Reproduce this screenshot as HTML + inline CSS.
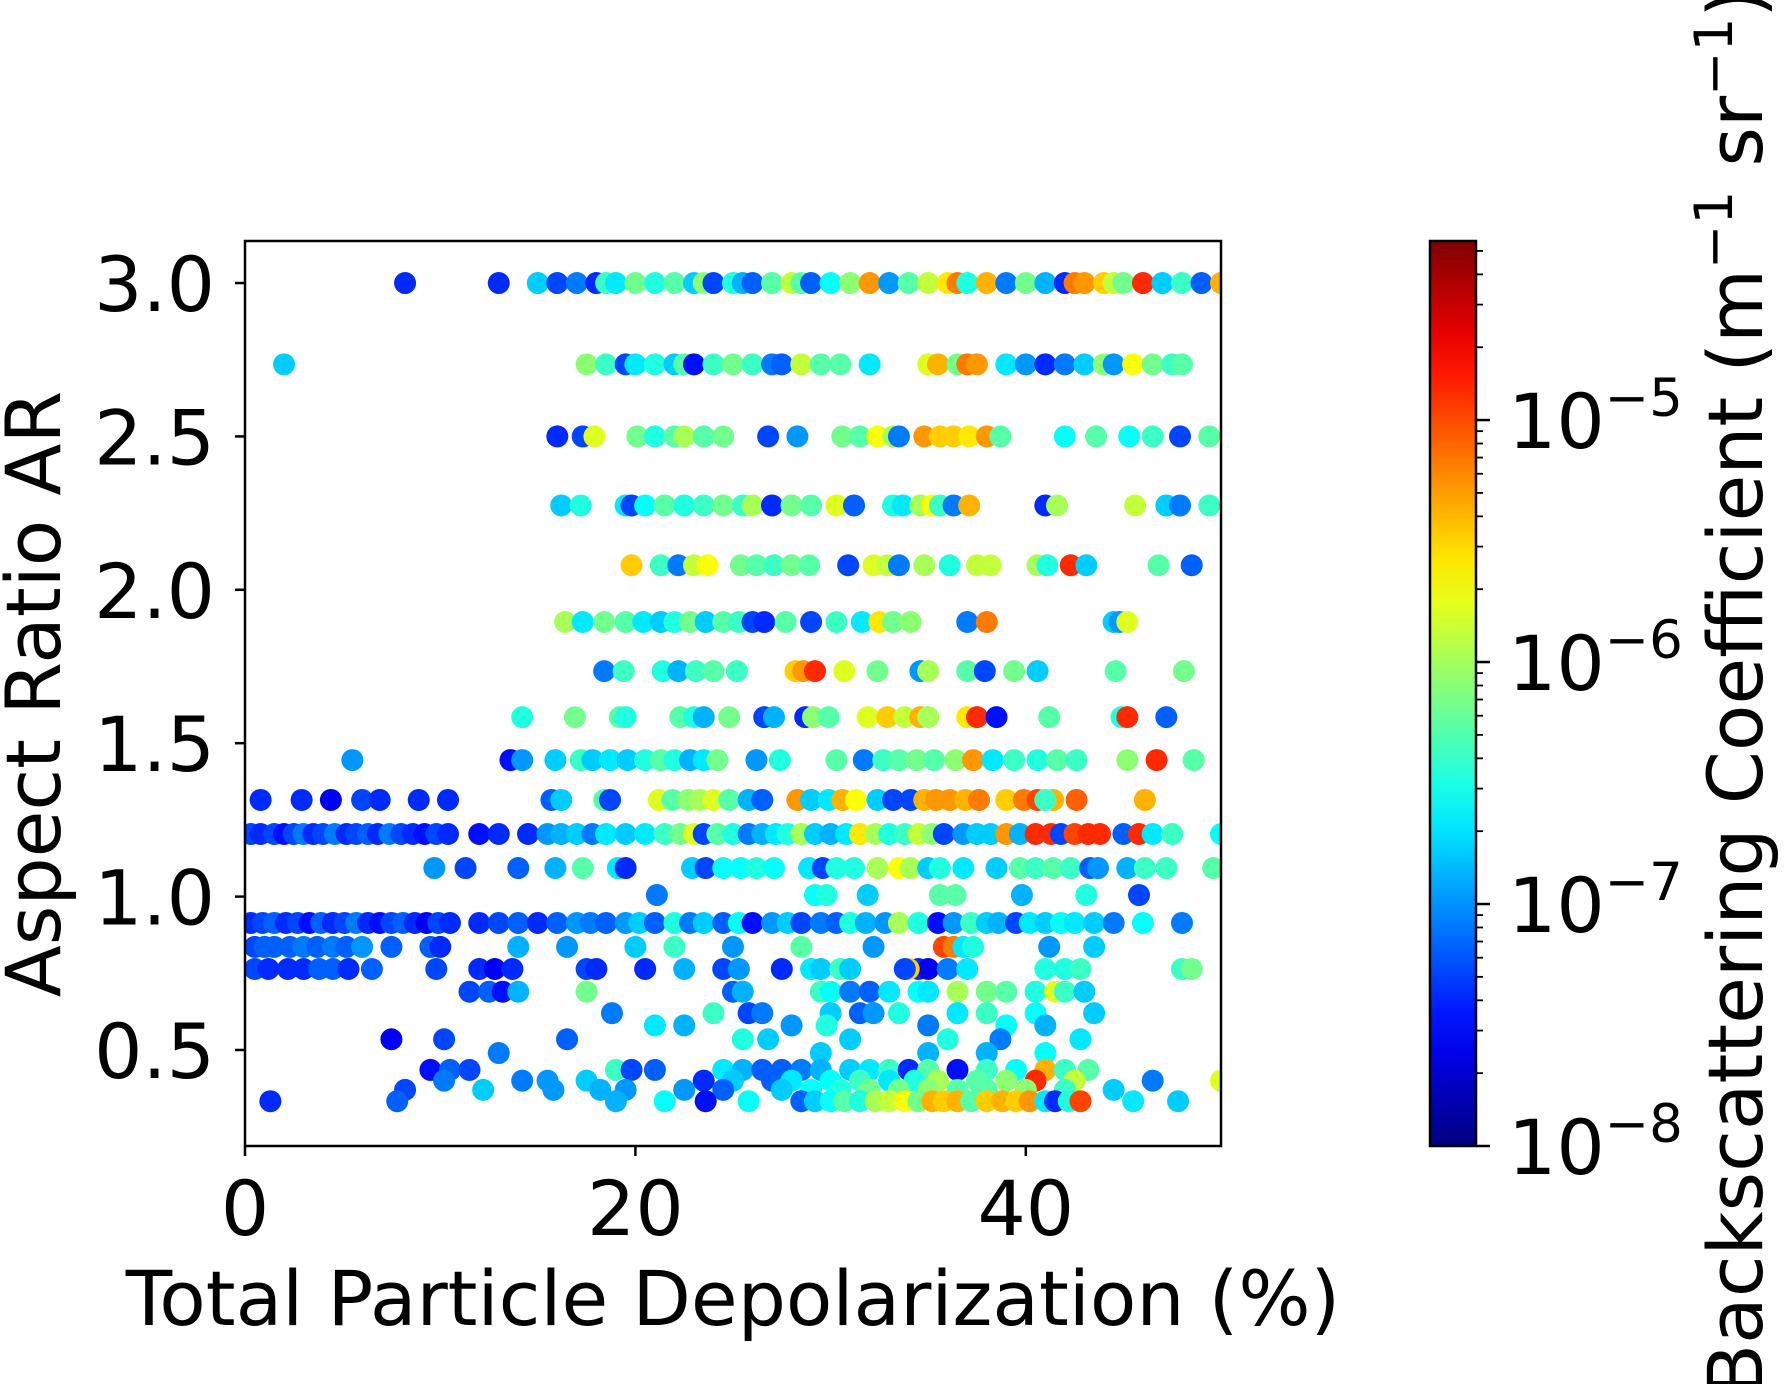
<!DOCTYPE html>
<html><head><meta charset="utf-8"><style>
html,body{margin:0;padding:0;background:#fff;}
svg{display:block;font-family:"DejaVu Sans","Liberation Sans",sans-serif;}
</style></head><body>
<svg id="chart" width="1784" height="1384" viewBox="0 0 1784 1384" xmlns="http://www.w3.org/2000/svg">
<defs><clipPath id="plotclip"><rect x="245" y="241" width="976" height="905"/></clipPath>
<linearGradient id="jetgrad" x1="0" y1="1" x2="0" y2="0"></linearGradient></defs>
<g id="points" clip-path="url(#plotclip)"></g>
<rect x="245" y="241" width="976" height="905" fill="none" stroke="#000" stroke-width="2.5"/>
<g id="axes"></g>
<text x="733" y="1325" font-size="76" text-anchor="middle">Total Particle Depolarization (%)</text>
<text transform="translate(60,694) rotate(-90)" font-size="76" text-anchor="middle">Aspect Ratio AR</text>
<rect id="cbar" x="1430" y="241" width="46" height="905" fill="url(#jetgrad)" stroke="#000" stroke-width="2.5"/>
<g id="cbaxis"></g>
<text transform="translate(1762,692) rotate(-90)" font-size="76" text-anchor="middle">Backscattering Coefficient (m<tspan dy="-30" font-size="53">−1</tspan><tspan dy="30"> sr</tspan><tspan dy="-30" font-size="53">−1</tspan><tspan dy="30">)</tspan></text>
</svg>
<script>
// Data: depolarization (%), aspect ratio, log10 backscatter
const depol = [
8.2,13,15,16,17,18,18.5,19,20,21,22,23,23.5,24,25,25.5,26,27,28,28.5,29,30,31,32,33,34,35,36,36.5,37,38,39,40,41,42,42.5,43,44,44.5,45,46,47,48,49,50,
2,17.5,18.5,19.5,20,21,22,22.5,23,24,25,26,27,27.5,28.5,29.5,30.5,32,35,35.5,36.5,37,37.5,39,40,41,42,43,44,44.5,45.5,46.5,47.5,48,
16,17.3,17.9,20.1,21,22,22.5,23.5,24.5,26.8,28.3,30.6,31.5,32.4,33.2,33.5,34.8,35.6,36.3,37.1,38,38.7,42,43.6,45.3,46.5,47.9,49.4,
16.2,17.2,19.5,19.8,20.5,21.5,22.5,23.5,24.5,25.5,26,27,28,29,30.3,31.2,33.2,33.7,34.6,35.2,35.6,36.3,37.1,41,41.6,45.6,47.2,47.9,49.4,
19.8,21.3,22.2,23,23.7,25.4,26.2,27.1,28,28.9,30.9,32.2,32.9,33.5,34.8,36.1,37.5,38.2,40.6,41.1,42.3,43.1,46.8,48.5,
16.4,17.3,18.4,19.5,20.4,21.3,22,22.8,23.6,24.5,25.3,26,26.6,27.7,29,30.3,31.6,32.5,33.2,34.1,37,38,44.5,44.8,45.2,
18.4,19.4,21.4,22.2,23.1,24,25.2,28.2,28.6,29.2,30.7,32.4,34.6,35,37,37.9,39.4,40.6,44.6,48.1,
14.2,16.9,19.2,19.5,22.3,23,23.5,24.8,26.6,27.1,28.7,29.1,29.9,31.9,32.9,33.8,34.6,35,37,37.5,38.5,41.2,44.9,45.2,47.2,
5.5,13.6,14.2,15.9,17.2,17.8,18.7,19.6,20.5,21.3,22,22.8,23.5,24.2,26.2,27.4,30.3,31.7,32.7,33.5,34.4,35.3,36.4,37.3,38.3,39.4,40.6,41.6,42.6,45.2,46.7,48.6,
0.8,2.9,4.4,6,6.9,8.9,10.4,15.7,16.2,18.4,18.7,21.2,21.9,22.7,23.3,24,24.8,25.8,26.5,28.3,29,29.9,30.6,31.3,32.4,33.2,34.1,34.8,35.4,36.1,36.9,37.6,39,39.9,40.6,41.4,42.6,46.1,41,
0.3,0.8,1.5,2,2.5,3,3.5,4,4.6,5.2,5.7,6.3,6.8,7.4,8,8.6,9.2,9.8,10.4,12,13,14.5,15.5,16.2,17,17.8,18.5,19.5,20.5,21.5,22.3,23,23.5,24.2,25,25.8,26.5,27.2,27.8,28.5,29.2,30,30.8,31.5,32.3,33,33.8,34.5,35.2,35.8,36.8,37.5,38.2,39,39.7,40.5,41.3,41.8,42.5,43.2,43.8,45,45.8,46.5,47.5,50,
9.7,11.3,14,15.9,17.3,19.1,19.5,22.9,23.6,24.5,25.4,26.2,27.1,28.9,29.6,30.3,31.2,32.4,33.5,34.1,35,35.6,36.8,38.5,39.7,40.5,41.4,42.3,43.3,43.7,45.2,46.1,47.2,49.6,
21.1,29.2,29.8,31.9,35.6,36.4,39.8,43.1,45.8,
0.3,0.9,1.5,2.1,2.7,3.3,3.9,4.5,5.1,5.7,6.3,6.9,7.5,8.1,8.7,9.3,9.9,10.5,12,13,14,15,16,17,17.7,18.5,19.5,20.2,21,22,22.8,23.5,24.5,25.3,26,27,27.8,28.5,29.5,30.3,31,31.8,32.8,33.5,34.5,35.5,36.3,37.2,38,38.6,39.5,40.2,41,41.8,42.5,43.5,44.5,46,48,
0.5,1,1.5,2.3,3,3.7,4.5,5.2,6,7.5,9.5,10,14,16.5,20,22,25,28.5,32.2,35.8,36.3,36.8,37.3,41.2,43.5,
0.5,1.2,2.2,3,3.8,4.5,5.3,6.5,9.8,12,12.8,13.7,17.5,18,20.5,22.5,24.5,25.3,27.5,29,29.5,30.5,31,34.5,35,36,37,41,42,42.8,48,48.5,34,33.8,
11.5,12.5,13.2,14,17.5,25,25.5,29.5,30,31,32,33,34.5,35,36.5,38,39,40.5,41.5,42,43,
18.8,24,25.8,26.5,30,31.5,32.2,33.5,36.5,38,40.5,43.5,
21,22.5,28,29.8,35,39,41,
7.5,10.2,16.5,25.5,26.8,31,36,38.7,42.8,
13,29.5,35,38,41,
9.5,10.5,11.5,19,19.8,21,24.5,25.5,26.5,27.5,28.5,29.5,31,32,33,34,35,36.5,38,39.5,41,42,43.2,
10.2,14.2,15.5,17.5,23.5,25,27,28,30,31.5,33,34.3,35.5,37.5,39,40.5,42.5,46.5,50,
8.2,12.2,15.8,18.2,19.5,22.5,24.5,27.5,29,30.5,32,33.5,35,36.5,38,40,42,44.5,
1.3,7.8,19,21.5,23.6,25.8,28.5,29.2,30,30.7,31.5,32.3,33,33.8,34.5,35.2,35.8,36.5,37.2,38,38.8,39.5,40.2,41,41.5,42.2,42.8,45.5,47.8
];
const rowAR = [3.0,2.735,2.5,2.275,2.08,1.895,1.735,1.585,1.445,1.315,1.204,1.093,1.005,0.914,0.836,0.764,0.69,0.62,0.58,0.535,0.49,0.435,0.40,0.37,0.333];
const rowCount = [45,34,28,29,24,25,20,25,32,39,66,34,9,59,25,34,21,12,7,9,5,23,19,18,29];
const logBeta = [
-7.5,-7.5,-6.9,-7.4,-7.2,-7.5,-6.5,-6.8,-6.3,-6.6,-6.4,-6.9,-6.2,-7.4,-6.6,-7.0,-7.3,-6.4,-6.0,-6.4,-7.3,-6.7,-6.2,-5.4,-7.1,-6.4,-6.0,-5.7,-5.3,-6.6,-5.5,-7.2,-6.3,-7.0,-7.5,-5.3,-5.4,-5.6,-6.0,-6.3,-5.0,-6.9,-6.5,-7.3,-5.5,
-6.9,-6.2,-6.5,-7.4,-6.8,-6.6,-6.9,-6.4,-7.6,-6.5,-6.3,-6.5,-7.2,-7.3,-6.0,-6.4,-6.4,-6.8,-5.9,-5.5,-6.3,-5.3,-5.4,-6.8,-7.1,-7.5,-7.2,-6.9,-6.2,-7.1,-5.8,-6.3,-6.5,-6.4,
-7.5,-7.4,-5.9,-6.3,-6.6,-6.4,-6.1,-6.4,-6.3,-7.4,-7.1,-6.3,-6.4,-5.8,-6.1,-7.2,-5.4,-5.6,-5.6,-5.7,-5.4,-6.4,-6.7,-6.4,-6.7,-6.5,-7.4,-6.4,
-6.9,-6.6,-6.8,-7.4,-6.7,-6.4,-6.6,-6.5,-6.3,-6.5,-6.1,-7.5,-6.3,-6.4,-5.9,-7.3,-6.6,-6.8,-6.1,-5.8,-6.5,-7.2,-5.5,-7.5,-6.1,-6.0,-6.9,-7.2,-6.5,
-5.6,-6.5,-7.2,-6.0,-5.8,-6.3,-6.4,-6.5,-6.3,-6.4,-7.4,-5.9,-6.0,-7.2,-6.1,-6.6,-6.0,-6.0,-6.1,-6.6,-5.0,-6.9,-6.4,-7.3,
-6.1,-6.8,-6.3,-6.4,-6.8,-6.9,-6.6,-6.3,-6.9,-6.4,-6.5,-7.4,-7.5,-6.4,-7.4,-6.5,-6.8,-5.7,-6.3,-6.2,-7.2,-5.3,-6.9,-7.1,-5.9,
-7.2,-6.5,-6.6,-7.0,-6.5,-6.4,-6.5,-5.6,-5.4,-5.0,-5.9,-6.3,-7.1,-6.1,-6.4,-7.4,-6.3,-6.9,-6.4,-6.3,
-6.6,-6.3,-6.4,-6.6,-6.4,-6.6,-7.0,-6.3,-7.4,-7.0,-7.5,-6.2,-6.4,-5.9,-5.6,-6.0,-5.5,-6.1,-5.7,-5.0,-7.6,-6.4,-6.6,-5.0,-7.3,
-7.1,-7.6,-7.1,-6.9,-6.5,-6.9,-6.8,-6.9,-6.6,-6.4,-6.6,-7.0,-6.8,-6.3,-7.1,-6.6,-6.4,-7.2,-6.5,-6.4,-6.3,-6.4,-6.2,-5.4,-6.8,-6.5,-6.6,-6.4,-6.5,-6.2,-5.0,-6.4,
-7.5,-7.5,-7.7,-7.4,-7.5,-7.5,-7.5,-7.3,-6.9,-6.4,-7.4,-5.9,-6.4,-6.2,-6.1,-5.9,-6.4,-7.0,-7.3,-5.4,-6.9,-6.8,-5.5,-5.8,-6.9,-7.4,-7.4,-5.5,-5.4,-5.4,-5.5,-5.3,-5.6,-5.3,-5.1,-5.5,-5.2,-5.5,-6.5,
-7.4,-7.5,-7.4,-7.6,-7.4,-7.2,-7.5,-7.4,-7.2,-7.5,-7.4,-7.3,-7.5,-7.2,-7.4,-7.5,-7.6,-7.4,-7.5,-7.6,-7.5,-7.5,-7.1,-7.0,-6.9,-7.2,-6.8,-6.9,-6.8,-6.5,-6.3,-5.9,-7.4,-6.4,-6.6,-7.2,-7.0,-6.8,-6.6,-6.1,-6.9,-7.0,-6.8,-5.7,-6.1,-6.6,-6.5,-6.0,-6.2,-7.4,-7.1,-6.9,-6.9,-5.4,-7.0,-5.0,-5.0,-7.4,-5.1,-5.0,-5.0,-7.3,-5.0,-6.8,-6.5,-6.7,
-7.1,-7.4,-7.3,-7.0,-6.4,-6.8,-7.5,-6.9,-7.4,-6.7,-6.7,-6.6,-6.7,-6.8,-7.4,-6.6,-6.6,-6.1,-5.8,-6.1,-6.9,-6.6,-6.8,-6.9,-6.4,-6.5,-6.4,-6.5,-7.3,-7.1,-7.0,-6.5,-6.5,-6.4,
-7.2,-6.7,-6.6,-6.9,-6.4,-6.4,-7.0,-6.6,-7.4,
-7.5,-7.4,-7.3,-7.5,-7.4,-7.6,-7.3,-7.5,-7.4,-7.2,-7.5,-7.6,-7.4,-7.3,-7.5,-7.7,-7.4,-7.5,-7.5,-7.4,-7.3,-7.5,-7.3,-7.1,-7.2,-7.3,-7.1,-6.9,-7.3,-6.6,-7.2,-6.9,-7.3,-6.7,-7.6,-7.1,-6.9,-7.4,-7.2,-7.3,-6.6,-7.0,-7.1,-6.1,-6.6,-7.6,-7.1,-6.5,-6.9,-7.0,-7.4,-6.8,-6.9,-6.7,-6.8,-6.9,-7.2,-6.7,-7.2,
-7.4,-7.3,-7.3,-7.3,-7.2,-7.3,-7.2,-7.3,-7.1,-7.3,-7.3,-7.5,-7.0,-7.1,-6.9,-6.5,-7.1,-6.4,-7.1,-5.1,-5.3,-6.8,-6.6,-7.1,-6.9,
-7.4,-7.5,-7.5,-7.5,-7.3,-7.3,-7.5,-7.3,-7.4,-7.5,-7.7,-7.5,-7.4,-7.5,-7.5,-7.0,-7.4,-7.1,-7.5,-6.8,-6.9,-6.5,-6.9,-7.5,-7.7,-7.2,-6.8,-6.6,-6.6,-6.5,-6.5,-6.3,-5.6,-7.4,
-7.4,-7.3,-7.6,-7.0,-6.3,-7.3,-7.0,-6.5,-6.7,-7.2,-7.3,-6.8,-6.7,-6.8,-6.1,-6.3,-6.4,-6.6,-5.9,-6.5,-6.9,
-7.2,-6.5,-7.4,-7.2,-6.9,-7.3,-7.1,-6.6,-6.8,-6.5,-6.7,-6.9,
-6.8,-7.0,-7.1,-6.6,-7.2,-6.7,-7.0,
-7.7,-7.4,-7.3,-6.6,-6.9,-6.9,-6.6,-7.2,-6.8,
-7.2,-6.9,-7.0,-7.0,-6.7,
-7.6,-7.3,-7.4,-6.5,-7.4,-7.3,-6.8,-7.0,-7.3,-7.3,-7.2,-7.0,-6.9,-6.8,-6.5,-7.5,-6.4,-7.6,-6.5,-6.7,-5.5,-6.5,-6.4,
-7.2,-7.2,-7.1,-6.9,-7.5,-6.9,-7.3,-6.8,-6.7,-6.5,-6.8,-6.6,-6.1,-6.4,-6.2,-5.0,-6.0,-7.2,-5.9,
-7.4,-6.9,-7.1,-7.0,-7.1,-7.1,-7.3,-6.9,-6.7,-6.6,-6.3,-6.3,-6.2,-6.4,-6.4,-6.2,-6.5,-6.9,
-7.5,-7.3,-7.0,-6.7,-7.6,-6.7,-7.3,-6.9,-6.7,-6.4,-6.6,-6.1,-6.0,-5.8,-6.3,-5.5,-5.6,-5.5,-6.4,-5.6,-5.5,-5.6,-5.4,-6.8,-7.5,-6.6,-5.1,-6.8,-6.9
];
const xTicks = [0,20,40];
const yTicks = [0.5,1.0,1.5,2.0,2.5,3.0];
const cbDecades = [-8,-7,-6,-5];

const NS='http://www.w3.org/2000/svg';
const X0=245,X1=1221,Y0=1146,Y1=241;
const xMin=0,xMax=50,yMin=0.187,yMax=3.137;
const cMin=-8,cMax=-4.26;
function sx(v){return X0+(v-xMin)/(xMax-xMin)*(X1-X0);}
function sy(v){return Y0-(v-yMin)/(yMax-yMin)*(Y0-Y1);}
function sc(v){return Y0-(v-cMin)/(cMax-cMin)*(Y0-Y1);}
function jet(t){
  t=Math.max(0,Math.min(1,t));
  function f(a){return Math.max(0,Math.min(1,a));}
  const r=f(Math.min(4*t-1.5,-4*t+4.5)),g=f(Math.min(4*t-0.5,-4*t+3.5)),b=f(Math.min(4*t+0.5,-4*t+2.5));
  return 'rgb('+Math.round(r*255)+','+Math.round(g*255)+','+Math.round(b*255)+')';
}
function mk(tag,attrs,parent){const e=document.createElementNS(NS,tag);for(const k in attrs)e.setAttribute(k,attrs[k]);parent.appendChild(e);return e;}

const arVals=[];
rowCount.forEach((n,i)=>{for(let j=0;j<n;j++)arVals.push(rowAR[i]);});
const pts=document.getElementById('points');
for(let i=0;i<depol.length;i++){
  const c=mk('circle',{cx:sx(depol[i]),cy:sy(arVals[i]),r:11,fill:jet((logBeta[i]+0.12-cMin)/(cMax-cMin))},pts);
  
  
}

const ax=document.getElementById('axes');
xTicks.forEach(v=>{
  mk('line',{x1:sx(v),x2:sx(v),y1:Y0,y2:Y0+10,stroke:'#000','stroke-width':2.5},ax);
  const t=mk('text',{x:sx(v),y:1235,'font-size':76,'text-anchor':'middle'},ax);t.textContent=String(v);
  
  
});
yTicks.forEach(v=>{
  mk('line',{x1:X0-10,x2:X0,y1:sy(v),y2:sy(v),stroke:'#000','stroke-width':2.5},ax);
  const t=mk('text',{x:X0-30,y:sy(v)+28,'font-size':76,'text-anchor':'end'},ax);t.textContent=v.toFixed(1);
  
  
});

const grad=document.getElementById('jetgrad');
for(let k=0;k<=20;k++){mk('stop',{offset:(k/20),'stop-color':jet(k/20)},grad);}
const cb=document.getElementById('cbaxis');
for(let d=-8;d<=-5;d++){
  for(let m=1;m<=9;m++){
    const lv=d+Math.log10(m);
    if(lv>cMax)break;
    const y=sc(lv);
    mk('line',{x1:1476,x2:1476+(m===1?14:7),y1:y,y2:y,stroke:'#000','stroke-width':m===1?2.5:1.8},cb);
  }
}
cbDecades.forEach(d=>{
  const t=mk('text',{x:1508,y:sc(d)+28,'font-size':76},cb);
  
  
  t.textContent='10';
  const s=document.createElementNS(NS,'tspan');s.setAttribute('dy','-32');s.setAttribute('font-size','53');s.textContent='−'+(-d);t.appendChild(s);
});
</script>
</body></html>
